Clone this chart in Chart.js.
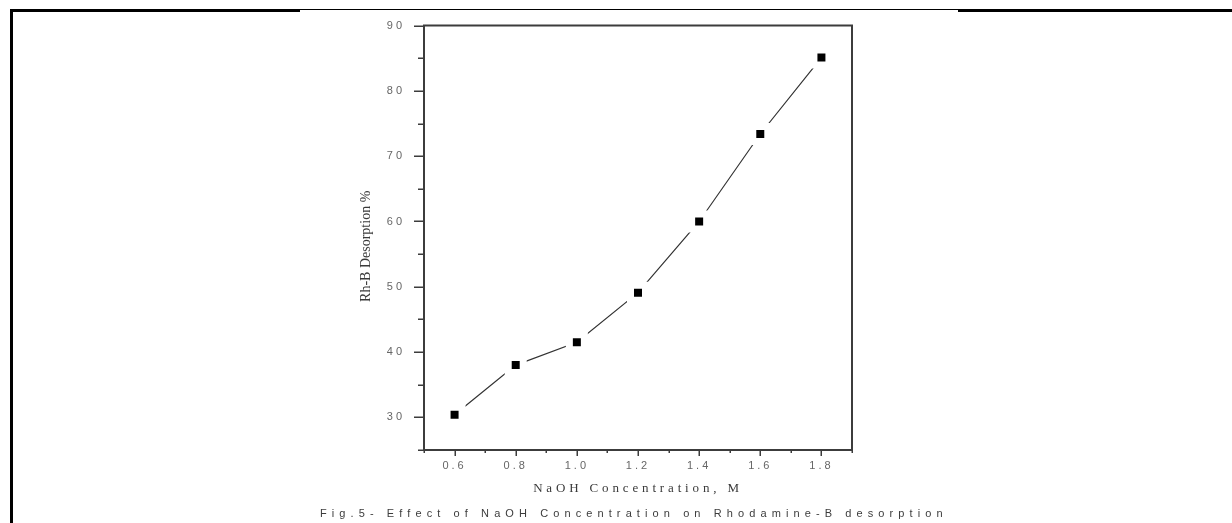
<!DOCTYPE html>
<html><head><meta charset="utf-8">
<script src="https://cdn.jsdelivr.net/npm/chart.js@4.4.1/dist/chart.umd.min.js"></script>
<style>
html,body{margin:0;padding:0;background:#fff;}
#wrap{position:relative;width:1232px;height:523px;overflow:hidden;background:#fff;}
#c{position:absolute;left:0;top:0;}
.ln{position:absolute;background:#000;}
#cap{position:absolute;left:320px;top:507px;font-family:"Liberation Sans",Arial,sans-serif;font-size:11px;letter-spacing:5.1px;color:#3c3c3c;white-space:nowrap;line-height:12px;}
</style></head><body>
<div id="wrap">
<canvas id="c" width="1232" height="523"></canvas>
<div class="ln" style="left:10px;top:9px;width:290px;height:3px"></div>
<div class="ln" style="left:300px;top:9px;width:658px;height:1px"></div>
<div class="ln" style="left:958px;top:9px;width:274px;height:3px"></div>
<div class="ln" style="left:10px;top:9px;width:3px;height:514px"></div>
<div id="cap">Fig.5- Effect of NaOH Concentration on Rhodamine-B desorption</div>
</div>
<script>
const concentrations = [0.6, 0.8, 1.0, 1.2, 1.4, 1.6, 1.8];
const desorption = [30.4, 38.0, 41.5, 49.1, 60.0, 73.4, 85.1];
const xMajorTicks = [0.6, 0.8, 1.0, 1.2, 1.4, 1.6, 1.8];
const xMinorTicks = [0.5, 0.7, 0.9, 1.1, 1.3, 1.5, 1.7, 1.9];
const yMajorTicks = [30, 40, 50, 60, 70, 80, 90];
const yMinorTicks = [25, 35, 45, 55, 65, 75, 85];
const xTitle = 'NaOH Concentration, M';
const yTitle = 'Rh-B Desorption %';

const points = concentrations.map((c, i) => ({x: c, y: desorption[i]}));
const AXIS = '#3c3c3c';

function patchScale(s, labelLS, titleLS, titleDy) {
  if (s._lsPatched) return;
  s._lsPatched = true;
  const dl = s.drawLabels.bind(s), dt = s.drawTitle.bind(s);
  s.drawLabels = function (a) { const c = this.ctx; c.save(); c.letterSpacing = labelLS; dl(a); c.restore(); };
  s.drawTitle = function () { const c = this.ctx; c.save(); c.letterSpacing = titleLS; c.translate(0, titleDy); dt(); c.restore(); };
}

const framePlugin = {
  id: 'frame',
  beforeDraw(chart) {
    patchScale(chart.scales.x, '3px', '3.85px', 0);
    patchScale(chart.scales.y, '3px', '0px', 8.5);
  },
  afterDraw(chart) {
    const ctx = chart.ctx, a = chart.chartArea, xs = chart.scales.x, ys = chart.scales.y;
    ctx.save();
    ctx.strokeStyle = AXIS;
    ctx.lineWidth = 2;
    ctx.beginPath();
    ctx.moveTo(a.left - 1, a.top);
    ctx.lineTo(a.right, a.top);
    ctx.lineTo(a.right, a.bottom + 1);
    ctx.stroke();
    ctx.lineWidth = 1.5;
    ctx.beginPath();
    yMajorTicks.forEach(v => { const p = Math.round(ys.getPixelForValue(v)) + 0.25; ctx.moveTo(a.left - 10, p); ctx.lineTo(a.left, p); });
    yMinorTicks.forEach(v => { const p = Math.round(ys.getPixelForValue(v)) + 0.25; ctx.moveTo(a.left - 6, p); ctx.lineTo(a.left, p); });
    xMajorTicks.forEach(v => { const p = Math.round(xs.getPixelForValue(v)) + 0.25; ctx.moveTo(p, a.bottom); ctx.lineTo(p, a.bottom + 6); });
    xMinorTicks.forEach(v => { const p = Math.round(xs.getPixelForValue(v)) + 0.25; ctx.moveTo(p, a.bottom); ctx.lineTo(p, a.bottom + 3); });
    ctx.stroke();
    ctx.restore();
  }
};

new Chart(document.getElementById('c'), {
  type: 'scatter',
  data: {
    datasets: [
      {data: points, showLine: true, borderColor: '#333', borderWidth: 1.2, pointRadius: 0, fill: false, order: 2},
      {data: points, showLine: false, pointStyle: 'rect', pointRadius: 10.6, pointBackgroundColor: '#000',
       pointBorderColor: '#fff', pointBorderWidth: 7, order: 1}
    ]
  },
  options: {
    responsive: false,
    animation: false,
    devicePixelRatio: 1,
    layout: {padding: {left: 300, right: 380, top: 25, bottom: 23}},
    plugins: {legend: {display: false}, tooltip: {enabled: false}},
    scales: {
      x: {
        type: 'linear', min: 0.5, max: 1.9,
        afterBuildTicks: s => { s.ticks = xMajorTicks.map(v => ({value: v})); },
        afterFit: s => { s.height = 50; },
        grid: {display: true, drawOnChartArea: false, drawTicks: false},
        border: {display: true, color: AXIS, width: 2},
        ticks: {padding: 9, color: '#666', font: {family: 'Liberation Sans', size: 11},
                callback: v => Number(v).toFixed(1), maxRotation: 0, autoSkip: false},
        title: {display: true, text: xTitle, color: '#3a3a3a',
                font: {family: 'Liberation Serif', size: 13}, padding: {top: 0, bottom: 4}}
      },
      y: {
        type: 'linear', min: 25, max: 90,
        afterBuildTicks: s => { s.ticks = yMajorTicks.map(v => ({value: v})); },
        afterFit: s => { s.width = 124; },
        grid: {display: true, drawOnChartArea: false, drawTicks: false},
        border: {display: true, color: AXIS, width: 2},
        ticks: {padding: 19, color: '#666', font: {family: 'Liberation Sans', size: 11},
                callback: v => String(v), autoSkip: false},
        title: {display: true, text: yTitle, color: '#3a3a3a',
                font: {family: 'Liberation Serif', size: 14}, padding: {top: 58, bottom: 0}}
      }
    }
  },
  plugins: [framePlugin]
});
</script>
</body></html>
